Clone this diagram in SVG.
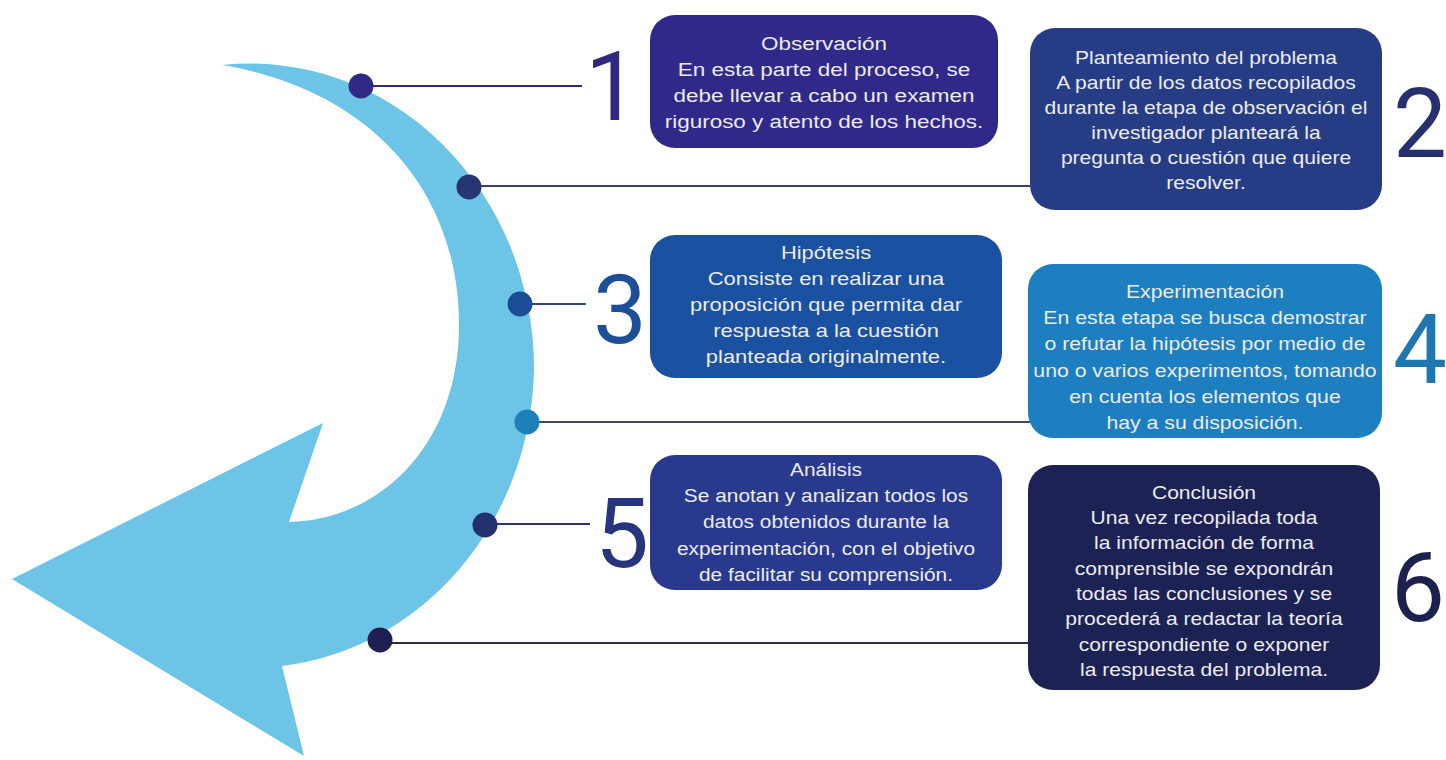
<svg xmlns="http://www.w3.org/2000/svg" width="1446" height="760" viewBox="0 0 1446 760">
<style>
.box{stroke:none}
.t{font-family:"Liberation Sans",Arial,sans-serif;font-size:18px;fill:#ECECF2;text-anchor:middle}
.num{font-family:Roboto,"Liberation Sans",sans-serif;font-weight:400;font-size:96px;text-anchor:middle}
.ln{stroke-width:2;fill:none}
</style>
<rect width="1446" height="760" fill="#FFFFFF"/>
<g id="arrow">
<path d="M222,65 A284,305 0 0 1 534,370 A284,305 0 0 1 282,666 L304,756 L12,579 L323,423 L289,522 C380,520 459,445 459,325 C459,190 370,90 222,65 Z" fill="#6CC5E6"/>
</g>
<g id="connectors">
<line class="ln" x1="361" y1="86" x2="582" y2="86" stroke="#2F2A80"/>
<line class="ln" x1="469" y1="186" x2="1030" y2="186" stroke="#3A4266"/>
<line class="ln" x1="520" y1="304" x2="586" y2="304" stroke="#2A4A80"/>
<line class="ln" x1="527" y1="422" x2="1030" y2="422" stroke="#3A4A66"/>
<line class="ln" x1="485" y1="524" x2="590" y2="524" stroke="#2F3570"/>
<line class="ln" x1="380" y1="643" x2="1030" y2="643" stroke="#2A2D50"/>
<circle cx="361" cy="86" r="12.5" fill="#2E2A86"/>
<circle cx="469" cy="187" r="12.5" fill="#253672"/>
<circle cx="520" cy="304" r="12.5" fill="#1A4D94"/>
<circle cx="527" cy="422" r="12.5" fill="#1E80B8"/>
<circle cx="485" cy="525" r="12.5" fill="#23306F"/>
<circle cx="380" cy="640" r="12.5" fill="#1C1F4F"/>
</g>
<g id="node1">
<rect class="box" x="650" y="15" width="348" height="133" rx="25" fill="#30298A"/>
<g transform="translate(824,0) scale(1.25,1)">
<text class="t" x="0" y="50">Observación</text>
<text class="t" x="0" y="76">En esta parte del proceso, se</text>
<text class="t" x="0" y="102">debe llevar a cabo un examen</text>
<text class="t" x="0" y="128">riguroso y atento de los hechos.</text>
</g>
<text class="num" x="612" y="120" fill="#2F2A80">1</text>
</g>
<g id="node2">
<rect class="box" x="1030" y="28" width="352" height="182" rx="25" fill="#263D86"/>
<g transform="translate(1206,0) scale(1.17,1)">
<text class="t" x="0" y="64">Planteamiento del problema</text>
<text class="t" x="0" y="89">A partir de los datos recopilados</text>
<text class="t" x="0" y="114">durante la etapa de observación el</text>
<text class="t" x="0" y="139">investigador planteará la</text>
<text class="t" x="0" y="164">pregunta o cuestión que quiere</text>
<text class="t" x="0" y="189">resolver.</text>
</g>
<text class="num" x="1420" y="157" fill="#26306E">2</text>
</g>
<g id="node3">
<rect class="box" x="650" y="235" width="352" height="143" rx="25" fill="#1A51A0"/>
<g transform="translate(826,0) scale(1.22,1)">
<text class="t" x="0" y="259">Hipótesis</text>
<text class="t" x="0" y="285">Consiste en realizar una</text>
<text class="t" x="0" y="311">proposición que permita dar</text>
<text class="t" x="0" y="337">respuesta a la cuestión</text>
<text class="t" x="0" y="363">planteada originalmente.</text>
</g>
<text class="num" x="620" y="343" fill="#1C4F98">3</text>
</g>
<g id="node4">
<rect class="box" x="1028" y="264" width="354" height="174" rx="25" fill="#1D7FBF"/>
<g transform="translate(1205,0) scale(1.18,1)">
<text class="t" x="0" y="298">Experimentación</text>
<text class="t" x="0" y="324">En esta etapa se busca demostrar</text>
<text class="t" x="0" y="350">o refutar la hipótesis por medio de</text>
<text class="t" x="0" y="377">uno o varios experimentos, tomando</text>
<text class="t" x="0" y="403">en cuenta los elementos que</text>
<text class="t" x="0" y="429">hay a su disposición.</text>
</g>
<text class="num" x="1420" y="383" fill="#2077B0">4</text>
</g>
<g id="node5">
<rect class="box" x="650" y="455" width="352" height="135" rx="25" fill="#28398E"/>
<g transform="translate(826,0) scale(1.16,1)">
<text class="t" x="0" y="476">Análisis</text>
<text class="t" x="0" y="502">Se anotan y analizan todos los</text>
<text class="t" x="0" y="528">datos obtenidos durante la</text>
<text class="t" x="0" y="555">experimentación, con el objetivo</text>
<text class="t" x="0" y="581">de facilitar su comprensión.</text>
</g>
<text class="num" x="622" y="567" fill="#27357F">5</text>
</g>
<g id="node6">
<rect class="box" x="1028" y="465" width="352" height="225" rx="25" fill="#1D2254"/>
<g transform="translate(1204,0) scale(1.17,1)">
<text class="t" x="0" y="499">Conclusión</text>
<text class="t" x="0" y="524">Una vez recopilada toda</text>
<text class="t" x="0" y="549">la información de forma</text>
<text class="t" x="0" y="575">comprensible se expondrán</text>
<text class="t" x="0" y="600">todas las conclusiones y se</text>
<text class="t" x="0" y="625">procederá a redactar la teoría</text>
<text class="t" x="0" y="651">correspondiente o exponer</text>
<text class="t" x="0" y="676">la respuesta del problema.</text>
</g>
<text class="num" x="1418" y="621" fill="#1D2150">6</text>
</g>
</svg>
